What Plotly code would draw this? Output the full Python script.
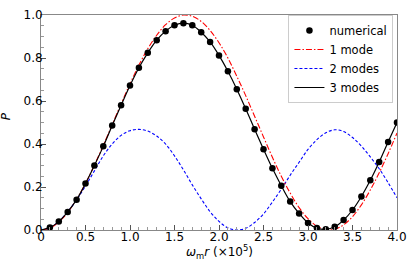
import plotly.graph_objects as go

# grid of omega_m r (x10^5)
x_grid = [0.0, 0.1, 0.2, 0.3, 0.4, 0.5, 0.6, 0.7, 0.8, 0.9,
          1.0, 1.1, 1.2, 1.3, 1.4, 1.5, 1.6, 1.7, 1.8, 1.9,
          2.0, 2.1, 2.2, 2.3, 2.4, 2.5, 2.6, 2.7, 2.8, 2.9,
          3.0, 3.1, 3.2, 3.3, 3.4, 3.5, 3.6, 3.7, 3.8, 3.9, 4.0]

# numerical points
num_x = x_grid[1:]
num_p = [0.012, 0.039, 0.084, 0.141, 0.216, 0.300, 0.389, 0.486, 0.580, 0.672,
         0.755, 0.824, 0.883, 0.925, 0.952, 0.962, 0.952, 0.920, 0.875, 0.812,
         0.738, 0.655, 0.564, 0.469, 0.376, 0.287, 0.206, 0.132, 0.077, 0.033,
         0.009, 0.003, 0.015, 0.046, 0.093, 0.156, 0.231, 0.316, 0.409, 0.500]

one_mode = [0.000, 0.009, 0.037, 0.082, 0.143, 0.217, 0.302, 0.394, 0.490, 0.587,
            0.680, 0.767, 0.843, 0.906, 0.955, 0.986, 1.000, 0.994, 0.970, 0.928,
            0.871, 0.800, 0.715, 0.625, 0.529, 0.433, 0.338, 0.250, 0.172, 0.104,
            0.053, 0.018, 0.002, 0.003, 0.024, 0.062, 0.117, 0.186, 0.266, 0.355,
            0.451]

two_modes = [0.000, 0.010, 0.040, 0.085, 0.140, 0.205, 0.275, 0.345, 0.400, 0.440,
             0.462, 0.468, 0.460, 0.437, 0.400, 0.345, 0.280, 0.210, 0.145, 0.085,
             0.040, 0.010, 0.000, 0.008, 0.035, 0.075, 0.130, 0.190, 0.255, 0.315,
             0.375, 0.420, 0.452, 0.466, 0.458, 0.430, 0.390, 0.340, 0.285, 0.220,
             0.150]

three_modes = [0.000, 0.012, 0.039, 0.084, 0.141, 0.216, 0.300, 0.389, 0.486, 0.580,
               0.672, 0.755, 0.824, 0.883, 0.925, 0.952, 0.962, 0.952, 0.920, 0.875,
               0.812, 0.738, 0.655, 0.564, 0.469, 0.376, 0.287, 0.206, 0.132, 0.077,
               0.033, 0.009, 0.003, 0.015, 0.046, 0.093, 0.156, 0.231, 0.316, 0.409,
               0.500]

x_tickvals = [0, 0.5, 1.0, 1.5, 2.0, 2.5, 3.0, 3.5, 4.0]
x_ticktext = ["0", "0.5", "1.0", "1.5", "2.0", "2.5", "3.0", "3.5", "4.0"]
y_tickvals = [0.0, 0.2, 0.4, 0.6, 0.8, 1.0]
y_ticktext = ["0.0", "0.2", "0.4", "0.6", "0.8", "1.0"]

fig = go.Figure()
fig.add_trace(go.Scatter(x=x_grid, y=two_modes, mode="lines", name="2 modes",
                         line=dict(color="#0000ff", width=1.1, dash="3px,2px", shape="spline"),
                         legendrank=3))
fig.add_trace(go.Scatter(x=x_grid, y=one_mode, mode="lines", name="1 mode",
                         line=dict(color="#ff0000", width=1.1, dash="6px,2px,1.5px,2px", shape="spline"),
                         legendrank=2))
fig.add_trace(go.Scatter(x=x_grid, y=three_modes, mode="lines", name="3 modes",
                         line=dict(color="#000000", width=1.2, shape="spline"),
                         legendrank=4))
fig.add_trace(go.Scatter(x=num_x, y=num_p, mode="markers", name="numerical",
                         marker=dict(color="#000000", size=6.5),
                         legendrank=1))

axis_common = dict(
    showline=True, linecolor="#888888", linewidth=1, mirror=True,
    showgrid=False, zeroline=False,
    ticks="inside", ticklen=5, tickwidth=1, tickcolor="#555555",
    tickfont=dict(size=12, color="black", family="DejaVu Sans"),
)

fig.update_xaxes(range=[0, 4.0], tickmode="array", tickvals=x_tickvals, ticktext=x_ticktext,
                 ticklabelstandoff=-4,
                 minor=dict(ticks="inside", ticklen=3, tickwidth=1, tickcolor="#999999",
                            tick0=0, dtick=0.1, showgrid=False),
                 **axis_common)
fig.update_yaxes(range=[0, 1.0], tickmode="array", tickvals=y_tickvals, ticktext=y_ticktext,
                 ticklabelstandoff=-5,
                 minor=dict(ticks="inside", ticklen=3, tickwidth=1, tickcolor="#999999",
                            tick0=0, dtick=0.05, showgrid=False),
                 **axis_common)

fig.update_layout(
    width=415, height=264,
    margin=dict(l=41, r=15, t=8, b=34),
    plot_bgcolor="white", paper_bgcolor="white",
    font=dict(family="DejaVu Sans", size=12, color="black"),
    showlegend=True,
    legend=dict(x=0.99, y=1.0, xanchor="right", yanchor="top",
                bgcolor="white", bordercolor="#cccccc", borderwidth=1,
                font=dict(size=11.5, family="DejaVu Sans"), tracegroupgap=0,
                itemwidth=30),
    annotations=[
        dict(text="<i>P</i>", xref="paper", yref="paper", x=-0.098, y=0.53,
             textangle=-90, showarrow=False, xanchor="center", yanchor="middle",
             font=dict(size=12, family="DejaVu Sans")),
        dict(text="<i>ω</i><sub>m</sub><i>r</i> (×10<sup>5</sup>)", xref="paper", yref="paper",
             x=0.5, y=-0.1, showarrow=False, xanchor="center", yanchor="middle",
             font=dict(size=12, family="DejaVu Sans")),
    ],
)

fig.write_html("out.html", config={"displayModeBar": False},
               post_script="document.body.style.margin='0px';")
